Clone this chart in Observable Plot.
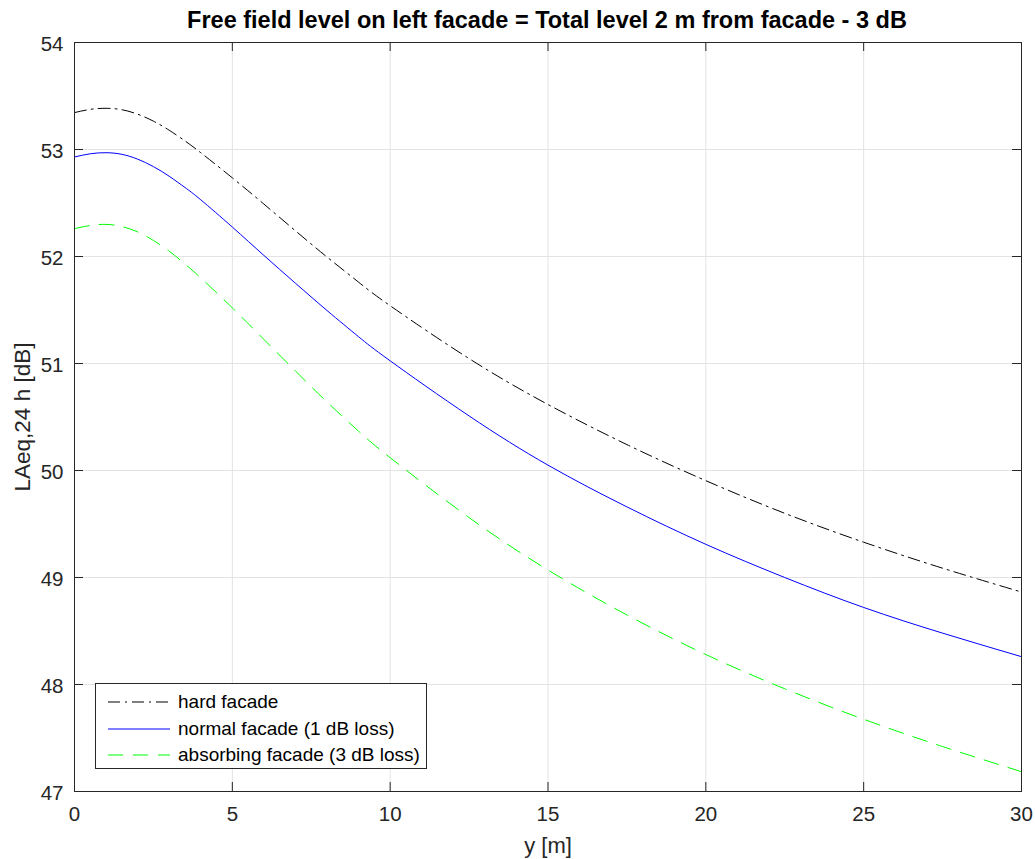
<!DOCTYPE html>
<html>
<head>
<meta charset="utf-8">
<script src="https://cdn.jsdelivr.net/npm/d3@7"></script>
<script src="https://cdn.jsdelivr.net/npm/@observablehq/plot@0.6"></script>
<style>
  html, body { margin: 0; padding: 0; background: #fff; }
  #wrap { position: relative; width: 1035px; height: 859px; font-family: "Liberation Sans", Arial, Helvetica, sans-serif; color: #262626; }
  #title { height: 38px; width: 1035px; position: relative; }
  #title span { position: absolute; left: 547px; top: 7px; transform: translateX(-50%); white-space: nowrap; font-weight: bold; font-size: 23.5px; color: #000; }
  #chart svg { display: block; }
  #legend { position: absolute; left: 95px; top: 683px; width: 332px; height: 86px; border: 1px solid #262626; background: #fff; box-sizing: border-box; }
  .row { position: absolute; left: 0; height: 24px; display: flex; align-items: center; }
  .row svg { margin-left: 12px; margin-right: 8px; }
  .row span { font-size: 19px; color: #000; white-space: nowrap; }
</style>
</head>
<body>
<div id="wrap">
  <div id="title"><span></span></div>
  <div id="chart"></div>
  <div id="legend"></div>
</div>
<script>
const titleText = "Free field level on left facade = Total level 2 m from facade - 3 dB";
const xLabel = "y [m]";
const yLabel = "LAeq,24 h [dB]";
const xTicks = [0, 5, 10, 15, 20, 25, 30];
const yTicks = [47, 48, 49, 50, 51, 52, 53, 54];

const distance =        [0, 0.5, 1, 1.5, 2, 2.5, 3, 3.5, 4, 5, 6, 7, 8, 9, 10, 12.5, 15, 17.5, 20, 22.5, 25, 27.5, 30];
const hardFacade =      [53.345, 53.375, 53.385, 53.372, 53.33, 53.265, 53.18, 53.08, 52.97, 52.735, 52.49, 52.24, 51.995, 51.76, 51.54, 51.046, 50.617, 50.242, 49.905, 49.60, 49.33, 49.087, 48.864];
const normalFacade =    [52.93, 52.96, 52.97, 52.955, 52.91, 52.84, 52.75, 52.645, 52.53, 52.275, 52.01, 51.75, 51.495, 51.25, 51.025, 50.51, 50.05, 49.66, 49.31, 49.00, 48.72, 48.48, 48.26];
const absorbingFacade = [52.26, 52.29, 52.30, 52.28, 52.23, 52.15, 52.05, 51.93, 51.80, 51.52, 51.225, 50.93, 50.64, 50.367, 50.12, 49.56, 49.07, 48.65, 48.28, 47.96, 47.675, 47.42, 47.185];

const seriesNames = ["hard facade", "normal facade (1 dB loss)", "absorbing facade (3 dB loss)"];
const seriesValues = [hardFacade, normalFacade, absorbingFacade];
const seriesColors = ["#000000", "#0000ff", "#00ff00"];
const seriesDash = ["12,5,2,5", null, "15,10"];

const data = [];
seriesNames.forEach((name, i) => {
  distance.forEach((d, j) => data.push({series: name, y: d, level: seriesValues[i][j]}));
});

document.querySelector("#title span").textContent = titleText;

const W = 1035, H = 821;
const mL = 74, mR = 14, mT = 4, mB = 68;
const innerW = W - mL - mR, innerH = H - mT - mB;
const tickLen = 9;
const font = "\"Liberation Sans\", Arial, Helvetica, sans-serif";

const marks = [
  Plot.ruleX(xTicks, {stroke: "#e3e3e3", strokeWidth: 1}),
  Plot.ruleY(yTicks, {stroke: "#e3e3e3", strokeWidth: 1}),
];
seriesNames.forEach((name, i) => {
  marks.push(Plot.line(data.filter(d => d.series === name), {
    x: "y", y: "level", stroke: seriesColors[i], strokeWidth: 1,
    strokeDasharray: seriesDash[i] || undefined, curve: "natural"
  }));
});
marks.push(
  Plot.frame({stroke: "#262626", strokeWidth: 1}),
  Plot.tickX(xTicks, {x: d => d, stroke: "#262626", insetTop: innerH - tickLen}),
  Plot.tickX(xTicks, {x: d => d, stroke: "#262626", insetBottom: innerH - tickLen}),
  Plot.tickY(yTicks, {y: d => d, stroke: "#262626", insetRight: innerW - tickLen}),
  Plot.tickY(yTicks, {y: d => d, stroke: "#262626", insetLeft: innerW - tickLen}),
  Plot.axisX(xTicks, {tickSize: 0, tickPadding: 15, fontSize: 20.5, label: null, color: "#262626", tickFormat: d3.format("d")}),
  Plot.axisY(yTicks, {tickSize: 0, tickPadding: 11, fontSize: 20.5, label: null, color: "#262626", tickFormat: d3.format("d"), dy: 2}),
  Plot.text([xLabel], {frameAnchor: "bottom", lineAnchor: "middle", textAnchor: "middle", dy: 54, fontSize: 22, fill: "#262626"}),
  Plot.text([yLabel], {frameAnchor: "left", lineAnchor: "middle", textAnchor: "middle", dx: -52, rotate: -90, fontSize: 22.5, fill: "#262626"})
);

const chart = Plot.plot({
  width: W, height: H,
  marginLeft: mL, marginRight: mR, marginTop: mT, marginBottom: mB,
  style: {fontFamily: font, background: "#fff", color: "#262626", overflow: "visible"},
  x: {domain: [0, 30]},
  y: {domain: [47, 54]},
  marks
});
document.getElementById("chart").appendChild(chart);

// legend
const legend = document.getElementById("legend");
seriesNames.forEach((name, i) => {
  const row = document.createElement("div");
  row.className = "row";
  row.style.top = (6 + i * 26.7) + "px";
  const svg = d3.create("svg").attr("width", 62).attr("height", 4);
  svg.append("line").attr("x1", 0).attr("x2", 62).attr("y1", 2).attr("y2", 2)
    .attr("stroke", seriesColors[i]).attr("stroke-width", 1)
    .attr("stroke-dasharray", seriesDash[i]);
  row.appendChild(svg.node());
  const sp = document.createElement("span");
  sp.textContent = name;
  row.appendChild(sp);
  legend.appendChild(row);
});
</script>
</body>
</html>
